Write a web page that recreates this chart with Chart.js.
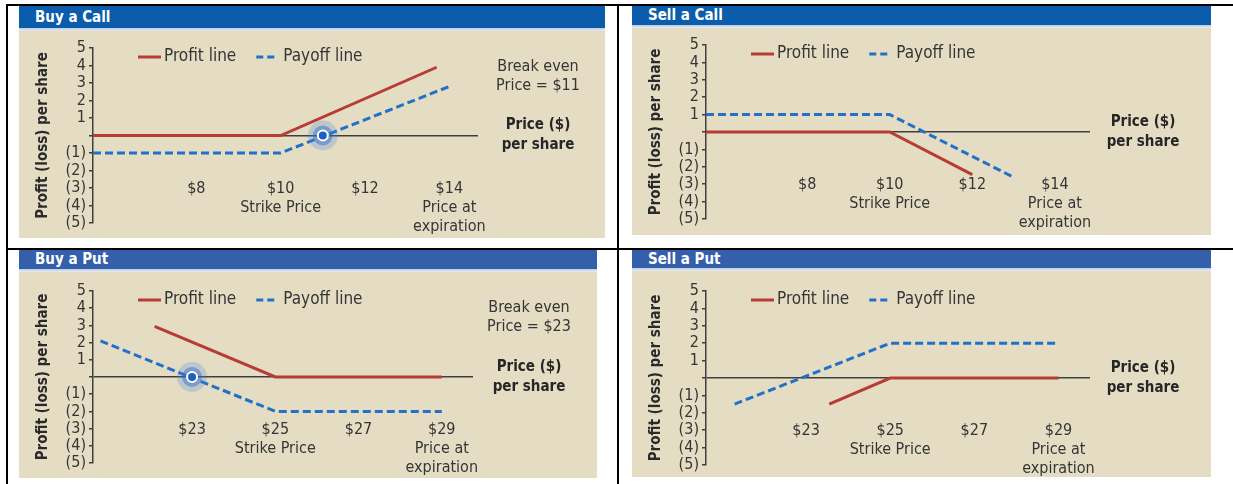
<!DOCTYPE html>
<html>
<head>
<meta charset="utf-8">
<script src="https://cdn.jsdelivr.net/npm/chart.js@4.4.1/dist/chart.umd.min.js"></script>
<style>
  html, body { margin: 0; padding: 0; background: #fff; }
  body { width: 1233px; height: 484px; position: relative; overflow: hidden;
         font-family: 'DejaVu Sans Condensed', 'Liberation Sans Narrow', sans-serif; }
  .rule { position: absolute; background: #000; }
  .panel { position: absolute; }
  .bar { color: #fff; font-weight: bold; font-size: 15px; padding-left: 16px; box-sizing: border-box; white-space: nowrap; }
  .stripe { height: 3px; background: linear-gradient(#b9cde6, #e9ecec); }
  .plot { position: relative; background: #e4ddc4; }
</style>
</head>
<body>
<div class="rule" style="left:6px; top:4px; width:1227px; height:2px"></div>
<div class="rule" style="left:6px; top:248px; width:1227px; height:2px"></div>
<div class="rule" style="left:6px; top:4px; width:2px; height:480px"></div>
<div class="rule" style="left:617px; top:4px; width:2px; height:480px"></div>

<script>
// x axis ticks
const callTicks = [8, 10, 12, 14];
const callTickLabels = ['$8', ['$10', 'Strike Price'], '$12', ['$14', 'Price at', 'expiration']];
const putTicks = [23, 25, 27, 29];
const putTickLabels = ['$23', ['$25', 'Strike Price'], '$27', ['$29', 'Price at', 'expiration']];
const yTicks = [5, 4, 3, 2, 1, 0, -1, -2, -3, -4, -5];

// [price, profit/loss per share]
const buyCallProfit = [[5.55, 0], [10, 0], [13.7, 3.9]];
const buyCallPayoff = [[5.55, -1], [10, -1], [14.05, 2.85]];
const buyCallBreakEven = [11, 0];

const sellCallProfit = [[5.55, 0], [10, 0], [12.0, -2.45]];
const sellCallPayoff = [[5.55, 1], [10, 1], [13.0, -2.6]];

const buyPutProfit = [[22.1, 2.95], [25, 0], [29, 0]];
const buyPutPayoff = [[20.8, 2.1], [25, -2], [29, -2]];
const buyPutBreakEven = [23, 0];

const sellPutProfit = [[23.55, -1.5], [25, 0], [29, 0]];
const sellPutPayoff = [[21.3, -1.5], [25, 2], [29, 2]];

const FONT = "'DejaVu Sans Condensed', 'Liberation Sans Narrow', sans-serif";
const RED = '#b83c36';
const BLUE = '#2270c8';
const INK = '#353535';
const AXIS = '#3f3f3f';

Chart.defaults.font.family = FONT;
Chart.defaults.color = INK;

// legend + side notes, drawn over the plot like the original artwork
const panelText = {
  id: 'panelText',
  afterDraw(chart, args, opts) {
    const { ctx, chartArea, scales } = chart;
    const y0 = scales.y.getPixelForValue(0);
    ctx.save();
    ctx.textBaseline = 'middle';
    ctx.font = '17px ' + FONT;

    let x = chartArea.left + 45;
    const ly = chartArea.top + 9;
    chart.data.datasets.filter(d => d.inLegend).forEach(ds => {
      const len = ds.borderDash ? 18 : 23;
      ctx.strokeStyle = ds.borderColor;
      ctx.lineWidth = 3;
      ctx.setLineDash(ds.borderDash ? [7, 4] : []);
      ctx.beginPath();
      ctx.moveTo(x, ly);
      ctx.lineTo(x + len, ly);
      ctx.stroke();
      ctx.fillStyle = INK;
      ctx.textAlign = 'left';
      const tx = x + len + (ds.borderDash ? 9 : 3);
      ctx.fillText(ds.label, tx, ly);
      x = tx + ctx.measureText(ds.label).width + 20;
    });

    const nx = chartArea.right + opts.noteX;
    ctx.textAlign = 'center';
    ctx.font = '16px ' + FONT;
    if (opts.breakEven) {
      ctx.fillText('Break even', nx, y0 - 69);
      ctx.fillText(opts.breakEven, nx, y0 - 50);
    }
    ctx.font = 'bold 15px ' + FONT;
    ctx.fillStyle = '#262626';
    ctx.fillText('Price ($)', nx, y0 - 10);
    ctx.fillText('per share', nx, y0 + 10);
    ctx.restore();
  }
};

function makeChart(canvas, spec) {
  const datasets = [
    { label: 'Profit line', data: spec.profit, borderColor: RED, borderWidth: 3, inLegend: true, order: 2 },
    { label: 'Payoff line', data: spec.payoff, borderColor: BLUE, borderWidth: 3, borderDash: [8, 4], inLegend: true, order: 3 }
  ];
  if (spec.marker) {
    datasets.push({
      label: 'Break even',
      data: [spec.marker, spec.marker, spec.marker],
      showLine: false,
      order: 1,
      pointRadius: [15, 10, 5],
      pointBackgroundColor: ['rgba(70,130,220,0.25)', 'rgba(40,105,205,0.45)', '#1f5fc0'],
      pointBorderColor: ['rgba(0,0,0,0)', 'rgba(0,0,0,0)', '#ffffff'],
      pointBorderWidth: [0, 0, 2]
    });
  }
  const labelFor = {};
  spec.ticks.forEach((v, i) => { labelFor[v] = spec.tickLabels[i]; });

  return new Chart(canvas, {
    type: 'line',
    data: { datasets },
    options: {
      responsive: true,
      maintainAspectRatio: false,
      animation: false,
      events: [],
      elements: { point: { radius: 0 }, line: { tension: 0, borderCapStyle: 'butt' } },
      layout: { padding: { left: 0, top: spec.pad.top, right: spec.pad.right, bottom: spec.pad.bottom } },
      plugins: {
        legend: { display: false },
        tooltip: { enabled: false },
        panelText: { noteX: spec.noteX, breakEven: spec.breakEvenText }
      },
      scales: {
        x: {
          type: 'linear',
          min: spec.range[0],
          max: spec.range[1],
          position: { y: -2.4 },
          afterBuildTicks: s => { s.ticks = spec.ticks.map(v => ({ value: v })); },
          ticks: {
            autoSkip: false,
            maxRotation: 0,
            padding: 2,
            color: INK,
            font: { size: 16, lineHeight: 1.18 },
            callback: v => labelFor[v]
          },
          grid: { display: false, drawTicks: false },
          border: { display: false }
        },
        y: {
          type: 'linear',
          min: -5,
          max: 5,
          afterBuildTicks: s => { s.ticks = yTicks.map(v => ({ value: v })); },
          afterFit: s => { s.width = 74; },
          ticks: {
            autoSkip: false,
            padding: 3,
            color: INK,
            font: { size: 16, lineHeight: 1 },
            callback: v => v > 0 ? String(v) : (v < 0 ? '(' + (-v) + ')' : '')
          },
          grid: {
            drawOnChartArea: true,
            color: c => (c.tick && c.tick.value === 0) ? AXIS : 'rgba(0,0,0,0)',
            lineWidth: 1.5,
            tickColor: AXIS,
            tickLength: 4,
            tickWidth: 1.5
          },
          border: { display: true, color: AXIS, width: 1.5 },
          title: {
            display: true,
            text: 'Profit (loss) per share',
            color: '#2a2a2a',
            font: { size: 15, weight: 'bold', lineHeight: 1.2 },
            padding: { top: 15, bottom: 0 }
          }
        }
      }
    },
    plugins: [panelText]
  });
}

const panels = [
  { title: 'Buy a Call', left: 19, top: 6, width: 586, barH: 22, barColor: '#0b5dab', plotH: 207,
    pad: { top: 17, right: 127, bottom: 14 }, noteX: 60, range: [5.55, 14.68],
    ticks: callTicks, tickLabels: callTickLabels,
    profit: buyCallProfit, payoff: buyCallPayoff, marker: buyCallBreakEven, breakEvenText: 'Price = $11' },
  { title: 'Sell a Call', left: 632, top: 6, width: 579, barH: 19, barColor: '#0b5dab', plotH: 207,
    pad: { top: 17, right: 121, bottom: 16 }, noteX: 53, range: [5.55, 14.85],
    ticks: callTicks, tickLabels: callTickLabels,
    profit: sellCallProfit, payoff: sellCallPayoff },
  { title: 'Buy a Put', left: 19, top: 250, width: 578, barH: 19, barColor: '#345fab', plotH: 206,
    pad: { top: 19, right: 124, bottom: 13 }, noteX: 56, range: [20.62, 29.75],
    ticks: putTicks, tickLabels: putTickLabels,
    profit: buyPutProfit, payoff: buyPutPayoff, marker: buyPutBreakEven, breakEvenText: 'Price = $23' },
  { title: 'Sell a Put', left: 632, top: 250, width: 579, barH: 18, barColor: '#345fab', plotH: 206,
    pad: { top: 20, right: 121, bottom: 12 }, noteX: 53, range: [20.62, 29.75],
    ticks: putTicks, tickLabels: putTickLabels,
    profit: sellPutProfit, payoff: sellPutPayoff }
];

panels.forEach(p => {
  const panel = document.createElement('div');
  panel.className = 'panel';
  panel.style.cssText = `left:${p.left}px; top:${p.top}px; width:${p.width}px;`;

  const bar = document.createElement('div');
  bar.className = 'bar';
  bar.textContent = p.title;
  bar.style.cssText = `height:${p.barH}px; line-height:${p.barH}px; background:${p.barColor};`;

  const stripe = document.createElement('div');
  stripe.className = 'stripe';

  const plot = document.createElement('div');
  plot.className = 'plot';
  plot.style.height = p.plotH + 'px';
  const canvas = document.createElement('canvas');
  plot.appendChild(canvas);

  panel.append(bar, stripe, plot);
  document.body.appendChild(panel);
  makeChart(canvas, p);
});
</script>
</body>
</html>
